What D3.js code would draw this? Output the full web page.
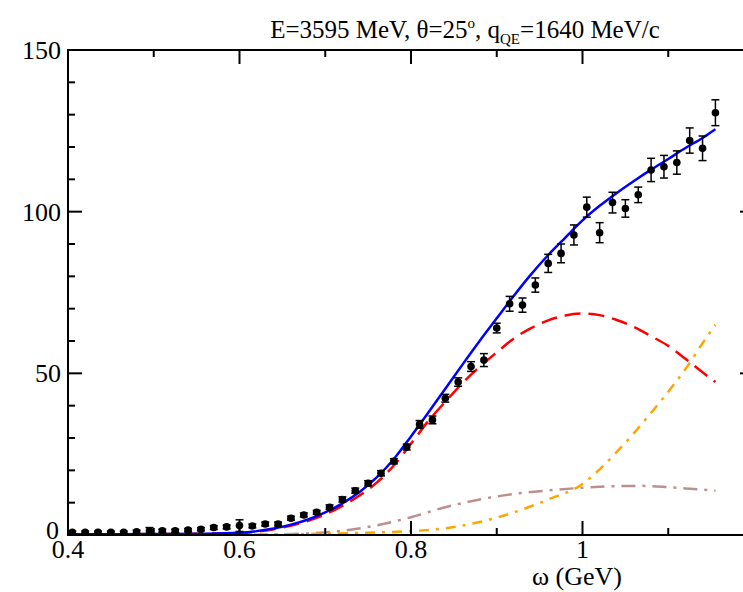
<!DOCTYPE html>
<html>
<head>
<meta charset="utf-8">
<script src="https://cdn.jsdelivr.net/npm/d3@7"></script>
<style>
  html, body { margin: 0; padding: 0; background: #fff; }
  svg { display: block; }
  text { font-family: "Liberation Serif", "DejaVu Serif", serif; fill: #000; }
</style>
</head>
<body>
<svg id="chart" width="743" height="592"></svg>
<script>
// Measured cross sections (omega in GeV)
const dataOmega = [0.405,0.420,0.435,0.450,0.465,0.480,0.495,0.510,0.525,0.540,
  0.555,0.570,0.585,0.600,0.615,0.630,0.645,0.660,0.675,0.690,
  0.705,0.720,0.735,0.750,0.765,0.780,0.795,0.810,0.825,0.840,
  0.855,0.870,0.885,0.900,0.915,0.930,0.945,0.960,0.975,0.990,
  1.005,1.020,1.035,1.050,1.065,1.080,1.095,1.110,1.125,1.140,1.155];
const dataValue = [0.8,0.8,0.8,0.8,0.8,1.0,1.3,1.3,1.3,1.5,
  1.8,2.3,2.5,2.9,2.8,3.4,3.4,5.2,6.2,7.0,
  8.6,11.0,13.7,16.0,19.1,22.8,27.2,34.2,35.6,42.3,
  47.3,52.1,54.1,64.0,71.5,71.1,77.3,84.0,87.1,92.8,
  101.4,93.5,102.8,101.0,105.2,112.9,113.9,115.2,122.0,119.6,130.6];
const dataError = [0.4,0.4,0.4,0.4,0.4,0.5,1.0,0.5,0.5,0.5,
  0.5,0.6,0.6,1.8,0.6,0.6,0.6,0.6,0.6,0.6,
  0.7,0.8,0.8,0.8,0.8,0.8,0.9,1.2,1.2,1.2,
  1.3,1.5,2.0,1.5,2.3,2.2,2.2,2.8,2.9,3.1,
  3.1,3.1,3.2,2.7,2.4,3.6,3.5,3.6,3.9,3.8,4.0];

// Model curves
const totalOmega = [0.40,0.50,0.56,0.60,0.62,0.64,0.66,0.68,0.70,0.72,0.74,0.76,0.78,0.80,
  0.82,0.84,0.86,0.88,0.90,0.92,0.94,0.96,0.98,1.00,1.02,1.04,1.06,1.08,1.10,1.12,1.14,1.155];
const totalValue = [0.2,0.3,0.4,0.7,1.2,2.0,3.2,4.8,7.0,9.8,13.3,17.8,23.5,30.5,
  37.8,45.2,52.7,60.0,67.0,74.0,80.6,86.6,92.0,97.3,101.8,105.8,109.5,113.0,116.3,119.7,122.8,125.5];

const qeOmega = [0.40,0.50,0.60,0.64,0.68,0.70,0.72,0.74,0.76,0.78,0.80,0.82,0.84,0.86,0.88,
  0.90,0.92,0.94,0.96,0.98,1.00,1.02,1.04,1.06,1.08,1.10,1.12,1.14,1.155];
const qeValue = [0.2,0.3,0.6,1.8,4.4,6.4,9.0,12.2,16.2,21.5,28.2,35.2,41.2,47.0,52.0,
  56.5,60.8,64.0,66.4,67.9,68.5,68.0,66.5,64.3,61.5,58.5,54.5,50.3,47.3];

const deltaOmega = [0.40,0.60,0.70,0.76,0.80,0.84,0.88,0.92,0.96,1.00,1.02,1.04,1.06,1.08,1.10,1.12,1.14,1.155];
const deltaValue = [0.0,0.1,0.4,0.8,1.2,2.1,4.0,7.0,11.0,15.8,20.3,25.7,31.5,37.8,44.3,51.3,59.3,65.0];

const mecOmega = [0.40,0.62,0.68,0.72,0.76,0.80,0.84,0.88,0.92,0.96,1.00,1.04,1.07,1.10,1.13,1.155];
const mecValue = [0.0,0.1,0.5,1.3,3.0,5.5,8.6,11.0,12.7,13.8,14.6,15.1,15.2,14.8,14.2,13.7];

// Axis ticks
const xMajorTicks = [0.4,0.6,0.8,1.0,1.2];
const xTickLabels = ["0.4","0.6","0.8","1",""];
const xMinorTicks = [0.5,0.7,0.9,1.1];
const yMajorTicks = [0,50,100,150];
const yTickLabels = ["0","50","100","150"];
const yMinorTicks = [10,20,30,40,60,70,80,90,110,120,130,140];

(function draw() {
  const svg = d3.select("#chart");
  const pLeft = 68, pRight = 754, pTop = 50, pBottom = 535;

  const x = d3.scaleLinear().domain([0.4, 1.2]).range([pLeft, pRight]);
  const y = d3.scaleLinear().domain([0, 150]).range([pBottom, pTop]);

  svg.append("defs").append("clipPath").attr("id", "plotclip")
    .append("rect").attr("x", pLeft).attr("y", pTop)
    .attr("width", pRight - pLeft).attr("height", pBottom - pTop);

  const plot = svg.append("g").attr("clip-path", "url(#plotclip)");

  const line = d3.line().x(d => x(d[0])).y(d => y(d[1])).curve(d3.curveMonotoneX);
  const zip = (a, b) => a.map((v, i) => [v, b[i]]);

  // MEC (rosy brown, dash-dot)
  plot.append("path").datum(zip(mecOmega, mecValue)).attr("d", line)
    .attr("fill", "none").attr("stroke", "#bc8f8f").attr("stroke-width", 2.5)
    .attr("stroke-dasharray", "14,7,3,7");
  // Inelastic (orange, dash-dot)
  plot.append("path").datum(zip(deltaOmega, deltaValue)).attr("d", line)
    .attr("fill", "none").attr("stroke", "#ffa500").attr("stroke-width", 2.5)
    .attr("stroke-dasharray", "10,7,3,7");
  // Quasielastic (red dashed)
  plot.append("path").datum(zip(qeOmega, qeValue)).attr("d", line)
    .attr("fill", "none").attr("stroke", "#ff0000").attr("stroke-width", 2.5)
    .attr("stroke-dasharray", "16,8");
  // Total (blue solid)
  plot.append("path").datum(zip(totalOmega, totalValue)).attr("d", line)
    .attr("fill", "none").attr("stroke", "#0000ff").attr("stroke-width", 2.5);

  // Data with error bars
  const pts = plot.append("g").selectAll("g")
    .data(dataOmega.map((w, i) => ({w, v: dataValue[i], e: dataError[i]})))
    .join("g");
  pts.append("line").attr("x1", d => x(d.w)).attr("x2", d => x(d.w))
    .attr("y1", d => y(d.v - d.e)).attr("y2", d => y(d.v + d.e))
    .attr("stroke", "#000").attr("stroke-width", 1.5);
  pts.append("line").attr("x1", d => x(d.w) - 4).attr("x2", d => x(d.w) + 4)
    .attr("y1", d => y(d.v + d.e)).attr("y2", d => y(d.v + d.e))
    .attr("stroke", "#000").attr("stroke-width", 1.5);
  pts.append("line").attr("x1", d => x(d.w) - 4).attr("x2", d => x(d.w) + 4)
    .attr("y1", d => y(d.v - d.e)).attr("y2", d => y(d.v - d.e))
    .attr("stroke", "#000").attr("stroke-width", 1.5);
  pts.append("circle").attr("cx", d => x(d.w)).attr("cy", d => y(d.v))
    .attr("r", 3.8).attr("fill", "#000");

  // Frame and inward ticks
  svg.append("rect").attr("x", pLeft).attr("y", pTop)
    .attr("width", pRight - pLeft).attr("height", pBottom - pTop)
    .attr("fill", "none").attr("stroke", "#000").attr("stroke-width", 2);

  const ticks = svg.append("g").attr("stroke", "#000").attr("stroke-width", 2);
  const majorLen = 14, minorLen = 7;
  const xTick = (t, len) => {
    ticks.append("line").attr("x1", x(t)).attr("x2", x(t)).attr("y1", pBottom).attr("y2", pBottom - len);
    ticks.append("line").attr("x1", x(t)).attr("x2", x(t)).attr("y1", pTop).attr("y2", pTop + len);
  };
  const yTick = (t, len) => {
    ticks.append("line").attr("x1", pLeft).attr("x2", pLeft + len).attr("y1", y(t)).attr("y2", y(t));
    ticks.append("line").attr("x1", pRight).attr("x2", pRight - len).attr("y1", y(t)).attr("y2", y(t));
  };
  xMajorTicks.forEach(t => xTick(t, majorLen));
  xMinorTicks.forEach(t => xTick(t, minorLen));
  yMajorTicks.forEach(t => yTick(t, majorLen));
  yMinorTicks.forEach(t => yTick(t, minorLen));

  // Tick labels
  svg.append("g").selectAll("text").data(xMajorTicks).join("text")
    .attr("x", d => x(d)).attr("y", pBottom + 23)
    .attr("text-anchor", "middle").attr("font-size", 26)
    .text((d, i) => xTickLabels[i]);
  svg.append("g").selectAll("text").data(yMajorTicks).join("text")
    .attr("x", d => d === 0 ? pLeft - 9 : pLeft - 7).attr("y", d => y(d) + (d === 0 ? 4 : 9))
    .attr("text-anchor", "end").attr("font-size", 26)
    .text((d, i) => yTickLabels[i]);

  // Axis title
  svg.append("text").attr("x", 577).attr("y", 585).attr("text-anchor", "middle")
    .attr("font-size", 26).text("ω (GeV)");

  // Plot title
  const title = svg.append("text").attr("x", 465).attr("y", 38)
    .attr("text-anchor", "middle").attr("font-size", 25);
  title.append("tspan").text("E=3595 MeV, θ=25");
  title.append("tspan").attr("font-size", 15).attr("dy", -10).text("o");
  title.append("tspan").attr("dy", 10).text(", q");
  title.append("tspan").attr("font-size", 15).attr("dy", 6).text("QE");
  title.append("tspan").attr("dy", -6).text("=1640 MeV/c");
})();
</script>
</body>
</html>
